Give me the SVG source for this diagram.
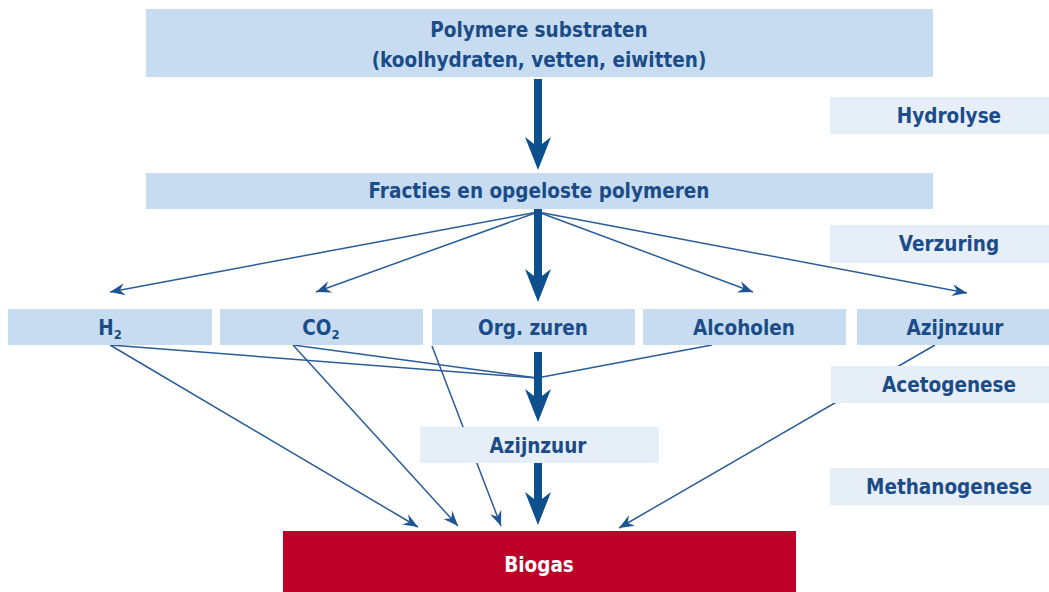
<svg xmlns="http://www.w3.org/2000/svg" width="1049" height="592" viewBox="0 0 1049 592">
<style>
.box{fill:#C7DCF1}
.pale{fill:#E6EEF8}
.red{fill:#BE0028}
.t{font-family:"DejaVu Sans Condensed","DejaVu Sans",sans-serif;font-weight:bold;font-size:20.5px;fill:#1B4C88;text-anchor:middle}
.w{fill:#FFFFFF}
.thin{stroke:#2A5C98;stroke-width:1.5;fill:none}
.thick{stroke:#0E4F8E;stroke-width:8;fill:none}
.sub{font-size:13px}
</style>
<defs>
<marker id="ah" viewBox="-16 -8 18 16" refX="0" refY="0" markerWidth="18" markerHeight="16" markerUnits="userSpaceOnUse" orient="auto">
<path d="M0,0 L-15,-6 L-10,0 L-15,6 Z" fill="#1D5592"/>
</marker>
<marker id="big" viewBox="-15 -15 40 30" refX="0" refY="0" markerWidth="40" markerHeight="30" markerUnits="userSpaceOnUse" orient="auto">
<path d="M20,0 L-13,-13 L-3,0 L-13,13 Z" fill="#0E4F8E"/>
</marker>
</defs>
<g id="connectors">
<line class="thin" x1="538" y1="212" x2="110" y2="292" marker-end="url(#ah)"/>
<line class="thin" x1="538" y1="212" x2="316" y2="292" marker-end="url(#ah)"/>
<line class="thin" x1="538" y1="212" x2="753" y2="292" marker-end="url(#ah)"/>
<line class="thin" x1="538" y1="212" x2="967" y2="293" marker-end="url(#ah)"/>
<line class="thin" x1="110" y1="345" x2="537" y2="378"/>
<line class="thin" x1="293" y1="345" x2="537" y2="378"/>
<line class="thin" x1="712" y1="345" x2="537" y2="378"/>
<line class="thin" x1="110" y1="345" x2="418" y2="527" marker-end="url(#ah)"/>
<line class="thin" x1="293" y1="345" x2="458" y2="526" marker-end="url(#ah)"/>
<line class="thin" x1="432" y1="346" x2="501" y2="526" marker-end="url(#ah)"/>
<line class="thin" x1="935" y1="345" x2="619" y2="528" marker-end="url(#ah)"/>
<line class="thick" x1="538" y1="79" x2="538" y2="150" marker-end="url(#big)"/>
<line class="thick" x1="538" y1="209" x2="538" y2="282" marker-end="url(#big)"/>
<line class="thick" x1="538" y1="352" x2="538" y2="402" marker-end="url(#big)"/>
<line class="thick" x1="538" y1="463" x2="538" y2="505" marker-end="url(#big)"/>
</g>
<g id="polymere">
<rect class="box" x="146" y="9" width="787" height="68"/>
<text class="t" x="539" y="37">Polymere substraten</text>
<text class="t" x="539" y="67">(koolhydraten, vetten, eiwitten)</text>
</g>
<g id="hydrolyse">
<rect class="pale" x="830" y="97" width="230" height="37"/>
<text class="t" x="949" y="123">Hydrolyse</text>
</g>
<g id="fracties">
<rect class="box" x="146" y="173" width="787" height="36"/>
<text class="t" x="539" y="198">Fracties en opgeloste polymeren</text>
</g>
<g id="verzuring">
<rect class="pale" x="830" y="225" width="230" height="38"/>
<text class="t" x="949" y="251">Verzuring</text>
</g>
<g id="h2">
<rect class="box" x="8" y="309" width="204" height="36"/>
<text class="t" x="110" y="335">H<tspan class="sub" dy="4">2</tspan></text>
</g>
<g id="co2">
<rect class="box" x="220" y="309" width="203" height="36"/>
<text class="t" x="321" y="335">CO<tspan class="sub" dy="4">2</tspan></text>
</g>
<g id="orgzuren">
<rect class="box" x="432" y="309" width="203" height="36"/>
<text class="t" x="533" y="335">Org. zuren</text>
</g>
<g id="alcoholen">
<rect class="box" x="643" y="309" width="203" height="36"/>
<text class="t" x="744" y="335">Alcoholen</text>
</g>
<g id="azijnzuur1">
<rect class="box" x="857" y="309" width="210" height="36"/>
<text class="t" x="955" y="335">Azijnzuur</text>
</g>
<g id="acetogenese">
<rect class="pale" x="831" y="366" width="230" height="37"/>
<text class="t" x="949" y="392">Acetogenese</text>
</g>
<g id="azijnzuur2">
<rect class="pale" x="420" y="427" width="239" height="36"/>
<text class="t" x="538" y="453">Azijnzuur</text>
</g>
<g id="methanogenese">
<rect class="pale" x="830" y="468" width="230" height="37"/>
<text class="t" x="949" y="494">Methanogenese</text>
</g>
<g id="biogas">
<rect class="red" x="283" y="531" width="513" height="61"/>
<text class="t w" x="539" y="572">Biogas</text>
</g>
</svg>
